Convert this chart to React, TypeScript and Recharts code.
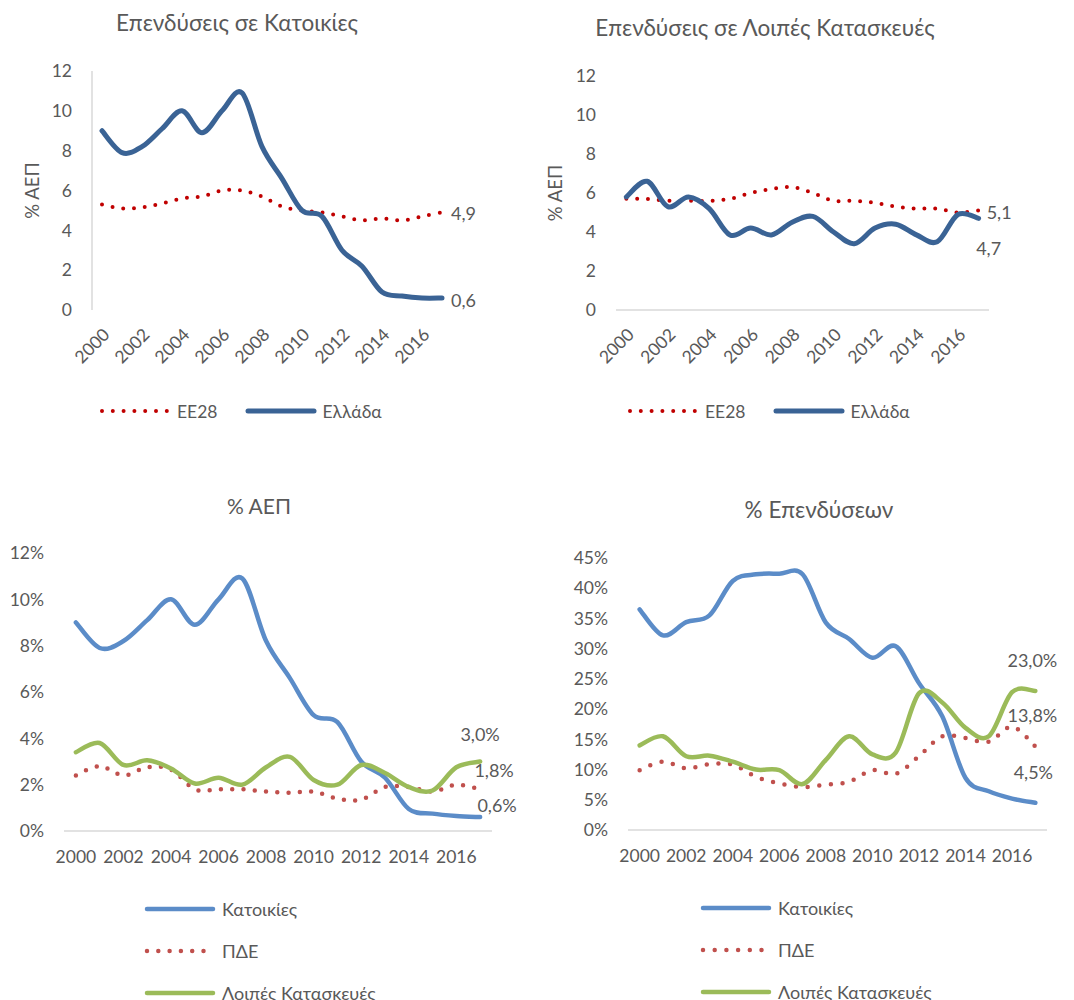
import React from 'react';
import { LineChart, Line, XAxis, YAxis, Legend, LabelList } from 'recharts';

const years = ['2000', '2001', '2002', '2003', '2004', '2005', '2006', '2007', '2008', '2009', '2010', '2011', '2012', '2013', '2014', '2015', '2016', '2017'];

// Επενδύσεις σε Κατοικίες (% ΑΕΠ)
const housingEU28 = [5.3, 5.1, 5.15, 5.35, 5.6, 5.7, 6.0, 6.0, 5.7, 5.2, 5.0, 4.9, 4.7, 4.5, 4.6, 4.5, 4.7, 4.9];
const housingGreece = [9.0, 7.9, 8.2, 9.1, 10.0, 8.9, 10.0, 10.9, 8.2, 6.6, 5.0, 4.7, 3.0, 2.2, 0.9, 0.7, 0.6, 0.6];

// Επενδύσεις σε Λοιπές Κατασκευές (% ΑΕΠ)
const otherEU28 = [5.7, 5.7, 5.6, 5.6, 5.6, 5.7, 6.0, 6.2, 6.3, 6.0, 5.6, 5.6, 5.5, 5.3, 5.2, 5.2, 5.0, 5.1];
const otherGreece = [5.8, 6.6, 5.3, 5.8, 5.2, 3.85, 4.2, 3.85, 4.5, 4.8, 4.0, 3.4, 4.2, 4.4, 3.85, 3.5, 4.9, 4.7];

// % ΑΕΠ
const gdpHousing = [9.0, 7.9, 8.2, 9.1, 10.0, 8.9, 10.0, 10.9, 8.2, 6.6, 5.0, 4.7, 3.0, 2.3, 0.95, 0.75, 0.65, 0.6];
const gdpPublic = [2.4, 2.8, 2.4, 2.75, 2.65, 1.8, 1.8, 1.8, 1.7, 1.65, 1.7, 1.4, 1.35, 1.9, 1.9, 1.7, 2.0, 1.8];
const gdpOther = [3.4, 3.8, 2.85, 3.05, 2.7, 2.05, 2.3, 2.0, 2.75, 3.2, 2.2, 2.0, 2.85, 2.5, 1.9, 1.75, 2.75, 3.0];

// % Επενδύσεων
const invHousing = [36.5, 32.2, 34.4, 35.5, 41.2, 42.3, 42.4, 42.3, 34.3, 31.6, 28.5, 30.4, 24.3, 18.8, 8.6, 6.4, 5.2, 4.5];
const invPublic = [9.9, 11.3, 10.2, 10.9, 10.8, 8.8, 7.7, 7.1, 7.5, 8.0, 9.9, 9.3, 12.2, 15.5, 15.2, 14.6, 17.1, 13.8];
const invOther = [14.0, 15.5, 12.2, 12.3, 11.3, 10.0, 9.9, 7.6, 11.6, 15.5, 12.5, 12.8, 22.6, 21.1, 16.9, 15.5, 22.8, 23.0];

const ticks12 = [0, 2, 4, 6, 8, 10, 12];
const ticks12pct = [0, 2, 4, 6, 8, 10, 12];
const ticks45pct = [0, 5, 10, 15, 20, 25, 30, 35, 40, 45];

const titles = ['Επενδύσεις σε Κατοικίες', 'Επενδύσεις σε Λοιπές Κατασκευές', '% ΑΕΠ', '% Επενδύσεων'];
const yAxisTitle = '% ΑΕΠ';
const namesTop = ['ΕΕ28', 'Ελλάδα'];
const namesBottom = ['Κατοικίες', 'ΠΔΕ', 'Λοιπές Κατασκευές'];

const FONT = 'Lato, "Open Sans", sans-serif';
const GREY = '#595959';
const AXIS = '#D9D9D9';
const DARKBLUE = '#3A6395';
const DARKRED = '#C00000';
const BLUE = '#5B8CC8';
const RED = '#C0504D';
const GREEN = '#9BBB59';

// Excel-like smoothed curve (Catmull-Rom through the scaled points)
const excelCurve: any = (context: any) => {
  let pts: number[][] = [];
  return {
    areaStart() {},
    areaEnd() {},
    lineStart() { pts = []; },
    point(x: number, y: number) { pts.push([+x, +y]); },
    lineEnd() {
      const n = pts.length;
      if (!n) return;
      context.moveTo(pts[0][0], pts[0][1]);
      for (let i = 0; i < n - 1; i++) {
        const p0 = pts[Math.max(i - 1, 0)];
        const p1 = pts[i];
        const p2 = pts[i + 1];
        const p3 = pts[Math.min(i + 2, n - 1)];
        context.bezierCurveTo(
          p1[0] + (p2[0] - p0[0]) / 6, p1[1] + (p2[1] - p0[1]) / 6,
          p2[0] - (p3[0] - p1[0]) / 6, p2[1] - (p3[1] - p1[1]) / 6,
          p2[0], p2[1]
        );
      }
    },
  };
};

type Series = {
  key: string; name: string; values: number[]; color: string; width: number; dash?: string;
  lab: { dx: number; dy: number; anchor: 'start' | 'middle' | 'end' };
};

type PanelProps = {
  left: number; top: number; width: number; height: number;
  margin: { top: number; right: number; bottom: number; left: number };
  yWidth: number; xHeight: number;
  title: string; titleCx: number; titleCy: number; titleSize: number;
  yTicks: number[]; pct: boolean;
  yLabelX?: number;
  rotated: boolean; xTickMargin: number; yTickMargin: number;
  xLine: boolean; yLine: boolean;
  series: Series[];
  legendVertical: boolean; legendLeft: number; legendTop: number;
};

const fmtVal = (v: number, pct: boolean) => v.toFixed(1).replace('.', ',') + (pct ? '%' : '');

function Panel(p: PanelProps) {
  const n = years.length;
  const data = years.map((year, i) => {
    const row: any = { year };
    p.series.forEach((s) => { row[s.key] = s.values[i]; });
    return row;
  });
  const plotW = p.width - p.margin.left - p.margin.right - p.yWidth;
  const pad = plotW / (n * 2);
  const yMax = p.yTicks[p.yTicks.length - 1];

  const legendContent = () => (
    <div style={{ display: 'flex', flexDirection: p.legendVertical ? 'column' : 'row', fontFamily: FONT }}>
      {p.series.map((s) => (
        <div key={s.key} style={{ display: 'flex', alignItems: 'center', height: p.legendVertical ? 42 : 26, marginRight: p.legendVertical ? 0 : 26 }}>
          <svg width={74} height={12} style={{ display: 'block' }}>
            <line x1={4} x2={70} y1={6} y2={6} stroke={s.color} strokeWidth={s.width} strokeDasharray={s.dash} strokeLinecap="round" />
          </svg>
          <span style={{ marginLeft: 5, fontSize: p.legendVertical ? 18 : 17.5, color: GREY, whiteSpace: 'nowrap' }}>{s.name}</span>
        </div>
      ))}
    </div>
  );

  const yLabelContent = (lp: any) => {
    const vb = lp.viewBox || {};
    const cy = (vb.y || 0) + (vb.height || 0) / 2;
    const x = p.yLabelX ?? 0;
    return (
      <text x={x} y={cy} transform={`rotate(-90, ${x}, ${cy})`} textAnchor="middle" dominantBaseline="central" fill={GREY} fontSize={18.5} fontFamily={FONT}>
        {yAxisTitle}
      </text>
    );
  };

  return (
    <div style={{ position: 'absolute', left: p.left, top: p.top, width: p.width, height: p.height }}>
      <div style={{ position: 'absolute', left: p.titleCx - 250, top: p.titleCy - 15, width: 500, textAlign: 'center', fontFamily: FONT, fontSize: p.titleSize, color: GREY, lineHeight: '30px', whiteSpace: 'nowrap' }}>
        {p.title}
      </div>
      <LineChart width={p.width} height={p.height} data={data} margin={p.margin}>
        <XAxis
          dataKey="year"
          interval={1}
          tickLine={false}
          axisLine={p.xLine ? { stroke: AXIS, strokeWidth: 1.5 } : false}
          padding={{ left: pad, right: pad }}
          height={p.xHeight}
          tickMargin={p.xTickMargin}
          angle={p.rotated ? -45 : 0}
          textAnchor={p.rotated ? 'end' : 'middle'}
          tick={{ fill: GREY, fontSize: 17.5, fontFamily: FONT }}
        />
        <YAxis
          domain={[0, yMax]}
          ticks={p.yTicks}
          interval={0}
          width={p.yWidth}
          tickLine={false}
          axisLine={p.yLine ? { stroke: AXIS, strokeWidth: 1.5 } : false}
          tickMargin={p.yTickMargin}
          tickFormatter={(v: number) => (p.pct ? `${v}%` : `${v}`)}
          tick={{ fill: GREY, fontSize: 17.5, fontFamily: FONT }}
          label={p.yLabelX !== undefined ? { content: yLabelContent } : undefined}
        />
        <Legend
          layout="horizontal"
          verticalAlign="middle"
          align="center"
          content={legendContent}
          wrapperStyle={{ left: p.legendLeft, top: p.legendTop, width: 480 }}
        />
        {p.series.map((s) => (
          <Line
            key={s.key}
            dataKey={s.key}
            name={s.name}
            type={excelCurve}
            stroke={s.color}
            strokeWidth={s.width}
            strokeDasharray={s.dash}
            strokeLinecap="round"
            strokeLinejoin="round"
            dot={false}
            activeDot={false}
            isAnimationActive={false}
          >
            <LabelList
              dataKey={s.key}
              content={(lp: any) => {
                if (lp.index !== n - 1) return null;
                const x = lp.x ?? lp.viewBox?.x;
                const y = lp.y ?? lp.viewBox?.y;
                return (
                  <text x={x + s.lab.dx} y={y + s.lab.dy} textAnchor={s.lab.anchor} dominantBaseline="central" fill={GREY} fontSize={18} fontFamily={FONT}>
                    {fmtVal(Number(lp.value), p.pct)}
                  </text>
                );
              }}
            />
          </Line>
        ))}
      </LineChart>
    </div>
  );
}

export default function App() {
  return (
    <div style={{ position: 'absolute', left: 0, top: 0, width: 1074, height: 1000, background: '#fff', overflow: 'hidden' }}>
      <Panel
        left={0} top={0} width={537} height={470}
        margin={{ top: 71, right: 85, bottom: 100, left: 32 }}
        yWidth={60} xHeight={60}
        title={titles[0]} titleCx={237} titleCy={23} titleSize={22.5}
        yTicks={ticks12} pct={false} yLabelX={32}
        rotated xTickMargin={11} yTickMargin={14}
        xLine={false} yLine
        series={[
          { key: 'eu', name: namesTop[0], values: housingEU28, color: DARKRED, width: 4, dash: '0 10.8', lab: { dx: 9, dy: 1, anchor: 'start' } },
          { key: 'gr', name: namesTop[1], values: housingGreece, color: DARKBLUE, width: 5, lab: { dx: 9, dy: 2, anchor: 'start' } },
        ]}
        legendVertical={false} legendLeft={98} legendTop={398}
      />
      <Panel
        left={537} top={0} width={537} height={470}
        margin={{ top: 76, right: 85, bottom: 100, left: 19 }}
        yWidth={60} xHeight={60}
        title={titles[1]} titleCx={228} titleCy={28} titleSize={22.5}
        yTicks={ticks12} pct={false} yLabelX={18}
        rotated xTickMargin={11} yTickMargin={14}
        xLine yLine={false}
        series={[
          { key: 'eu', name: namesTop[0], values: otherEU28, color: DARKRED, width: 4, dash: '0 10.8', lab: { dx: 8, dy: 1, anchor: 'start' } },
          { key: 'gr', name: namesTop[1], values: otherGreece, color: DARKBLUE, width: 5, lab: { dx: 10, dy: 30, anchor: 'middle' } },
        ]}
        legendVertical={false} legendLeft={89} legendTop={398}
      />
      <Panel
        left={0} top={480} width={537} height={520}
        margin={{ top: 73, right: 45, bottom: 119, left: 4 }}
        yWidth={60} xHeight={50}
        title={titles[2]} titleCx={259} titleCy={26} titleSize={21}
        yTicks={ticks12pct} pct
        rotated={false} xTickMargin={14} yTickMargin={14}
        xLine yLine={false}
        series={[
          { key: 'h', name: namesBottom[0], values: gdpHousing, color: BLUE, width: 4.5, lab: { dx: 17, dy: -12, anchor: 'middle' } },
          { key: 'p', name: namesBottom[1], values: gdpPublic, color: RED, width: 4.5, dash: '0 11.3', lab: { dx: 14, dy: -19, anchor: 'middle' } },
          { key: 'o', name: namesBottom[2], values: gdpOther, color: GREEN, width: 4.5, lab: { dx: 0, dy: -28, anchor: 'middle' } },
        ]}
        legendVertical legendLeft={143} legendTop={408}
      />
      <Panel
        left={537} top={480} width={537} height={520}
        margin={{ top: 78, right: 27, bottom: 120, left: 31 }}
        yWidth={60} xHeight={50}
        title={titles[3]} titleCx={282} titleCy={30} titleSize={22.5}
        yTicks={ticks45pct} pct
        rotated={false} xTickMargin={14} yTickMargin={14}
        xLine yLine={false}
        series={[
          { key: 'h', name: namesBottom[0], values: invHousing, color: BLUE, width: 4.5, lab: { dx: -2, dy: -31, anchor: 'middle' } },
          { key: 'p', name: namesBottom[1], values: invPublic, color: RED, width: 4.5, dash: '0 11.7', lab: { dx: -3, dy: -32, anchor: 'middle' } },
          { key: 'o', name: namesBottom[2], values: invOther, color: GREEN, width: 4.5, lab: { dx: -3, dy: -31, anchor: 'middle' } },
        ]}
        legendVertical legendLeft={162} legendTop={407}
      />
    </div>
  );
}
